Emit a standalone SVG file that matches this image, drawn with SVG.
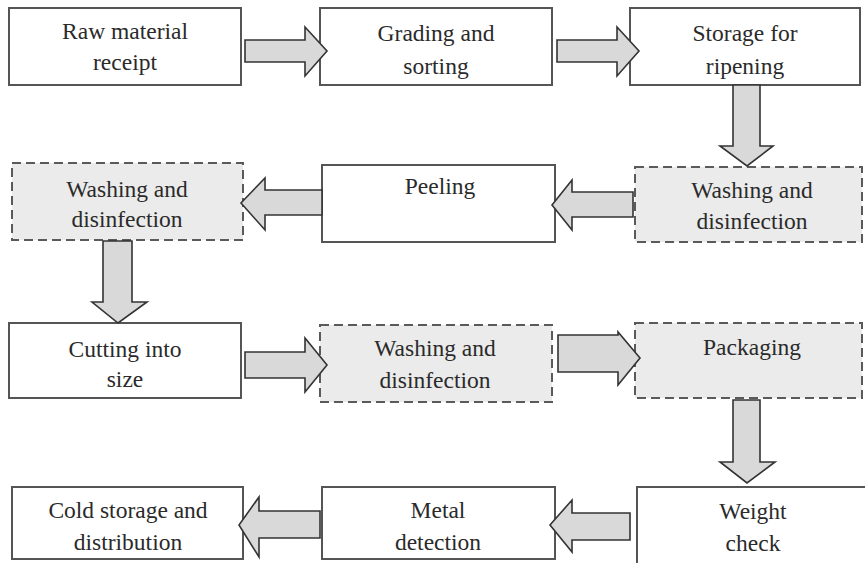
<svg xmlns="http://www.w3.org/2000/svg" width="865" height="563" viewBox="0 0 865 563">
<style>
.box{fill:#ffffff;stroke:#555555;stroke-width:2}
.dbox{fill:#ebebeb;stroke:#5a5a5a;stroke-width:2;stroke-dasharray:9 5}
.arr{fill:#d9d9d9;stroke:#333333;stroke-width:1.6;stroke-linejoin:miter}
.t{font-family:'Liberation Serif','Tinos','Times New Roman','DejaVu Serif',serif;font-size:23.5px;fill:#2a2a2a;text-anchor:middle}
</style>
<rect width="865" height="563" fill="#ffffff"/>
<g font-family="Liberation Serif, Times New Roman, serif">
<g id="n1"><rect class="box" x="9" y="8" width="232" height="77"/><text class="t" x="125" y="39">Raw material</text><text class="t" x="125" y="70">receipt</text></g>
<g id="n2"><rect class="box" x="320" y="8" width="232" height="77"/><text class="t" x="436" y="41">Grading and</text><text class="t" x="436" y="74">sorting</text></g>
<g id="n3"><rect class="box" x="630" y="8" width="230" height="77"/><text class="t" x="745" y="41">Storage for</text><text class="t" x="745" y="74">ripening</text></g>
<g id="n4"><rect class="dbox" x="635" y="167" width="227" height="75"/><text class="t" x="752" y="198">Washing and</text><text class="t" x="752" y="229">disinfection</text></g>
<g id="n5"><rect class="box" x="322" y="165" width="233" height="77"/><text class="t" x="440" y="194">Peeling</text></g>
<g id="n6"><rect class="dbox" x="12" y="163" width="231" height="77"/><text class="t" x="127" y="197">Washing and</text><text class="t" x="127" y="227">disinfection</text></g>
<g id="n7"><rect class="box" x="9" y="323" width="232" height="75"/><text class="t" x="125" y="357">Cutting into</text><text class="t" x="125" y="387">size</text></g>
<g id="n8"><rect class="dbox" x="320" y="325" width="232" height="77"/><text class="t" x="435" y="356">Washing and</text><text class="t" x="435" y="388">disinfection</text></g>
<g id="n9"><rect class="dbox" x="635" y="323" width="227" height="75"/><text class="t" x="752" y="355">Packaging</text></g>
<g id="n10"><rect class="box" x="637" y="487" width="230" height="80"/><text class="t" x="753" y="519">Weight</text><text class="t" x="753" y="551">check</text></g>
<g id="n11"><rect class="box" x="322" y="487" width="233" height="72"/><text class="t" x="438" y="518">Metal</text><text class="t" x="438" y="550">detection</text></g>
<g id="n12"><rect class="box" x="12" y="487" width="231" height="72"/><text class="t" x="128" y="518">Cold storage and</text><text class="t" x="128" y="550">distribution</text></g>
</g>
<g id="connectors">
<polygon class="arr" points="245,40 305,40 305,27 327,51 305,76 305,62 245,62"/>
<polygon class="arr" points="557,40 617,40 617,27 639,51 617,76 617,62 557,62"/>
<polygon class="arr" points="733,85 760,85 760,146 773,146 747,166 720,146 733,146"/>
<polygon class="arr" points="633,192 572,192 572,180 552,205 572,230 572,217 633,217"/>
<polygon class="arr" points="322,190 265,190 265,178 241,203 265,230 265,215 322,215"/>
<polygon class="arr" points="103,241 132,241 132,302 147,302 118,323 92,302 103,302"/>
<polygon class="arr" points="245,352 305,352 305,338 327,365 305,392 305,378 245,378"/>
<polygon class="arr" points="558,335 618,335 618,332 640,358 618,385 618,372 558,372"/>
<polygon class="arr" points="733,400 760,400 760,462 775,462 747,483 720,462 733,462"/>
<polygon class="arr" points="630,513 572,513 572,500 550,525 572,552 572,540 630,540"/>
<polygon class="arr" points="320,511 259,511 259,497 239,525 259,557 259,538 320,538"/>
</g>
</svg>
